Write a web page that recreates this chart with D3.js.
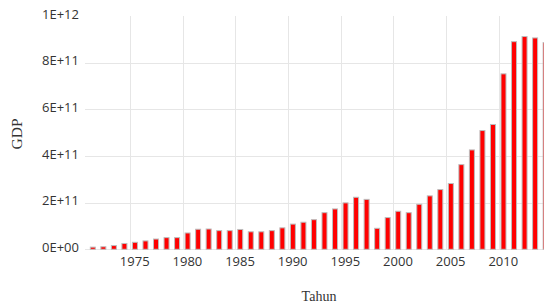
<!DOCTYPE html>
<html>
<head>
<meta charset="utf-8">
<script src="https://cdn.jsdelivr.net/npm/d3@7"></script>
<style>
  body { margin: 0; background: #fff; }
  svg { display: block; }
</style>
</head>
<body>
<svg id="canvas" width="544" height="308"></svg>
<script>
// data (current US$)
const years = [1971, 1972, 1973, 1974, 1975, 1976, 1977, 1978, 1979, 1980,
  1981, 1982, 1983, 1984, 1985, 1986, 1987, 1988, 1989, 1990,
  1991, 1992, 1993, 1994, 1995, 1996, 1997, 1998, 1999, 2000,
  2001, 2002, 2003, 2004, 2005, 2006, 2007, 2008, 2009, 2010,
  2011, 2012, 2013, 2014];
const gdp = [9.3e9, 10.8e9, 16e9, 25e9, 30e9, 36e9, 44e9, 50e9, 50e9, 70e9,
  86e9, 87e9, 80e9, 80e9, 85e9, 75e9, 75e9, 80e9, 92e9, 108e9,
  116e9, 127e9, 157e9, 173e9, 199e9, 223e9, 214e9, 90e9, 136e9, 163e9,
  157e9, 193e9, 229e9, 256e9, 282e9, 363e9, 426e9, 509e9, 535e9, 752e9,
  890e9, 912e9, 906e9, 886e9];
const yTicks = [0, 2e11, 4e11, 6e11, 8e11, 1e12];
const xTicks = [1975, 1980, 1985, 1990, 1995, 2000, 2005, 2010];

const canvas = d3.select("#canvas");
const plotLeft = 85, plotTop = 16, plotBottom = 249.3;

const x = d3.scaleLinear().domain([1970, 2015]).range([77.35, 551.2]);
const y = d3.scaleLinear().domain([0, 1e12]).range([plotBottom, plotTop]);

const fmt = (v) => {
  if (v === 0) return "0E+00";
  const e = Math.floor(Math.log10(v));
  return Math.round(v / Math.pow(10, e)) + "E+" + e;
};

// gridlines
canvas.append("g")
  .selectAll("line")
  .data(yTicks.slice(0, -1))
  .enter()
  .append("line")
  .attr("x1", plotLeft)
  .attr("x2", 544)
  .attr("y1", (d) => Math.round(y(d)) + 0.5)
  .attr("y2", (d) => Math.round(y(d)) + 0.5)
  .attr("stroke", "#e6e6e6")
  .attr("stroke-width", 1);

canvas.append("g")
  .selectAll("line")
  .data(xTicks)
  .enter()
  .append("line")
  .attr("x1", (d) => Math.round(x(d)) + 0.5)
  .attr("x2", (d) => Math.round(x(d)) + 0.5)
  .attr("y1", plotTop)
  .attr("y2", plotBottom)
  .attr("stroke", "#e6e6e6")
  .attr("stroke-width", 1);

// bars
canvas.append("g")
  .selectAll("rect")
  .data(years)
  .enter()
  .append("rect")
  .attr("x", (d) => x(d + 0.47) - 2.5)
  .attr("width", 5)
  .attr("y", (d, i) => y(gdp[i]))
  .attr("height", (d, i) => plotBottom - y(gdp[i]))
  .attr("fill", "#ff0000")
  .attr("stroke", "#bdbdbd")
  .attr("stroke-width", 1);

// y tick labels
canvas.append("g")
  .selectAll("text")
  .data(yTicks)
  .enter()
  .append("text")
  .attr("x", 79)
  .attr("y", (d) => y(d) - 2)
  .attr("dy", "0.35em")
  .attr("text-anchor", "end")
  .style("font-family", "'Open Sans', sans-serif")
  .style("font-size", "13px")
  .style("fill", "#333")
  .text(fmt);

// x tick labels (sit under the bar of that year)
canvas.append("g")
  .selectAll("text")
  .data(xTicks)
  .enter()
  .append("text")
  .attr("x", (d) => x(d + 0.45))
  .attr("y", 261.5)
  .attr("dy", "0.35em")
  .attr("text-anchor", "middle")
  .style("font-family", "'Open Sans', sans-serif")
  .style("font-size", "13px")
  .style("fill", "#333")
  .text((d) => d);

// axis titles
canvas.append("text")
  .attr("x", 319)
  .attr("y", 301)
  .attr("text-anchor", "middle")
  .style("font-family", "'Liberation Serif', serif")
  .style("font-size", "14px")
  .style("fill", "#333")
  .text("Tahun");

canvas.append("text")
  .attr("transform", "translate(22,134) rotate(-90)")
  .attr("text-anchor", "middle")
  .style("font-family", "'Liberation Serif', serif")
  .style("font-size", "15.5px")
  .style("fill", "#333")
  .text("GDP");
</script>
</body>
</html>
